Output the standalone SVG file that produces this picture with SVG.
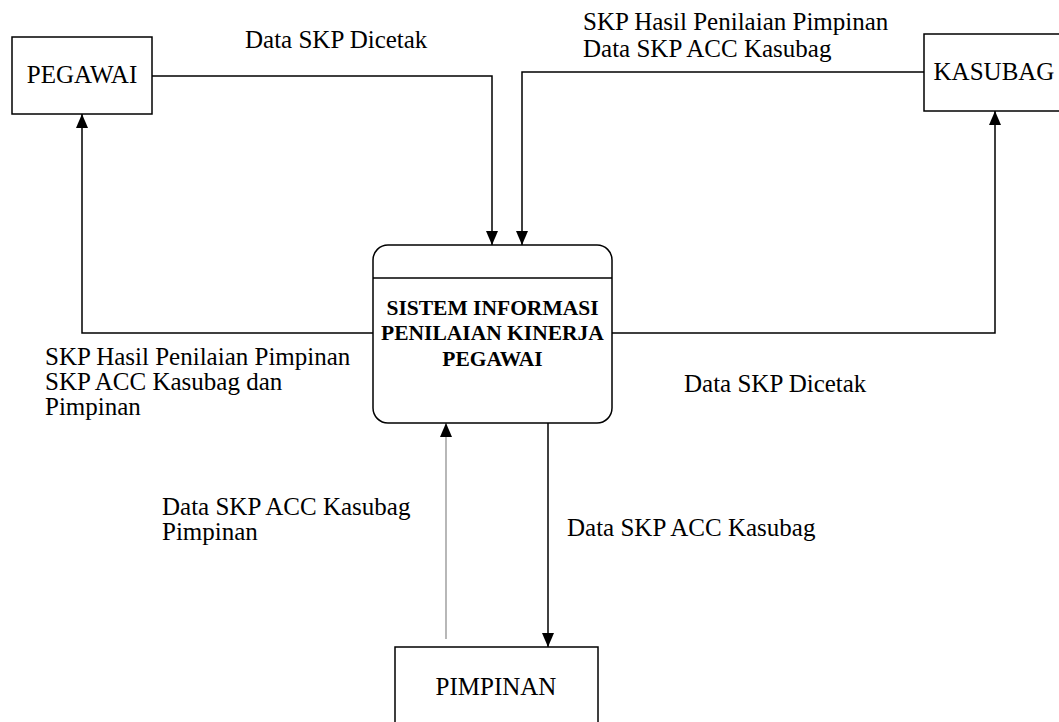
<svg xmlns="http://www.w3.org/2000/svg" width="1059" height="722" viewBox="0 0 1059 722">
<style>
.box{fill:#fff;stroke:#000;stroke-width:1.5}
.t{font-family:"Liberation Serif","Times New Roman",serif;font-size:25px;fill:#000}
.tb{font-family:"Liberation Serif","Times New Roman",serif;font-size:21.5px;font-weight:bold;fill:#000}
.c{fill:none;stroke:#000;stroke-width:1.5}
.g{fill:none;stroke:#888;stroke-width:1.2}
</style>
<defs>
<marker id="ah" markerUnits="userSpaceOnUse" markerWidth="14" markerHeight="12" refX="14" refY="6" orient="auto">
<path d="M0,0 L14,6 L0,12 z" fill="#000"/>
</marker>
</defs>
<rect width="1059" height="722" fill="#fff"/>
<g id="connectors">
<path class="c" d="M152,76 H492 V245" marker-end="url(#ah)"/>
<path class="c" d="M924,72 H522 V245" marker-end="url(#ah)"/>
<path class="c" d="M373,333 H82 V114" marker-end="url(#ah)"/>
<path class="c" d="M612,333 H995 V111" marker-end="url(#ah)"/>
<path class="g" d="M446,639 V423" marker-end="url(#ah)"/>
<path class="c" d="M548,423 V647" marker-end="url(#ah)"/>
</g>
<g id="labels">
<text class="t" x="245" y="48">Data SKP Dicetak</text>
<text class="t" x="583" y="30">SKP Hasil Penilaian Pimpinan</text>
<text class="t" x="583" y="57">Data SKP ACC Kasubag</text>
<text class="t" x="45" y="365">SKP Hasil Penilaian Pimpinan</text>
<text class="t" x="45" y="390">SKP ACC Kasubag dan</text>
<text class="t" x="45" y="415">Pimpinan</text>
<text class="t" x="684" y="392">Data SKP Dicetak</text>
<text class="t" x="162" y="515">Data SKP ACC Kasubag</text>
<text class="t" x="162" y="540">Pimpinan</text>
<text class="t" x="567" y="536">Data SKP ACC Kasubag</text>
</g>
<g id="pegawai">
<rect class="box" x="12" y="37" width="140" height="77"/>
<text class="t" x="82" y="83" text-anchor="middle">PEGAWAI</text>
</g>
<g id="kasubag">
<rect class="box" x="924" y="34" width="150" height="77"/>
<text class="t" x="994" y="80" text-anchor="middle">KASUBAG</text>
</g>
<g id="sistem">
<rect class="box" x="373" y="245" width="239" height="178" rx="15" ry="15"/>
<line class="c" x1="373" y1="278" x2="612" y2="278"/>
<text class="tb" x="492.5" y="315" text-anchor="middle">SISTEM INFORMASI</text>
<text class="tb" x="492.5" y="340" text-anchor="middle">PENILAIAN KINERJA</text>
<text class="tb" x="492.5" y="366" text-anchor="middle">PEGAWAI</text>
</g>
<g id="pimpinan">
<rect class="box" x="395" y="647" width="203" height="90"/>
<text class="t" x="496" y="695" text-anchor="middle">PIMPINAN</text>
</g>
</svg>
